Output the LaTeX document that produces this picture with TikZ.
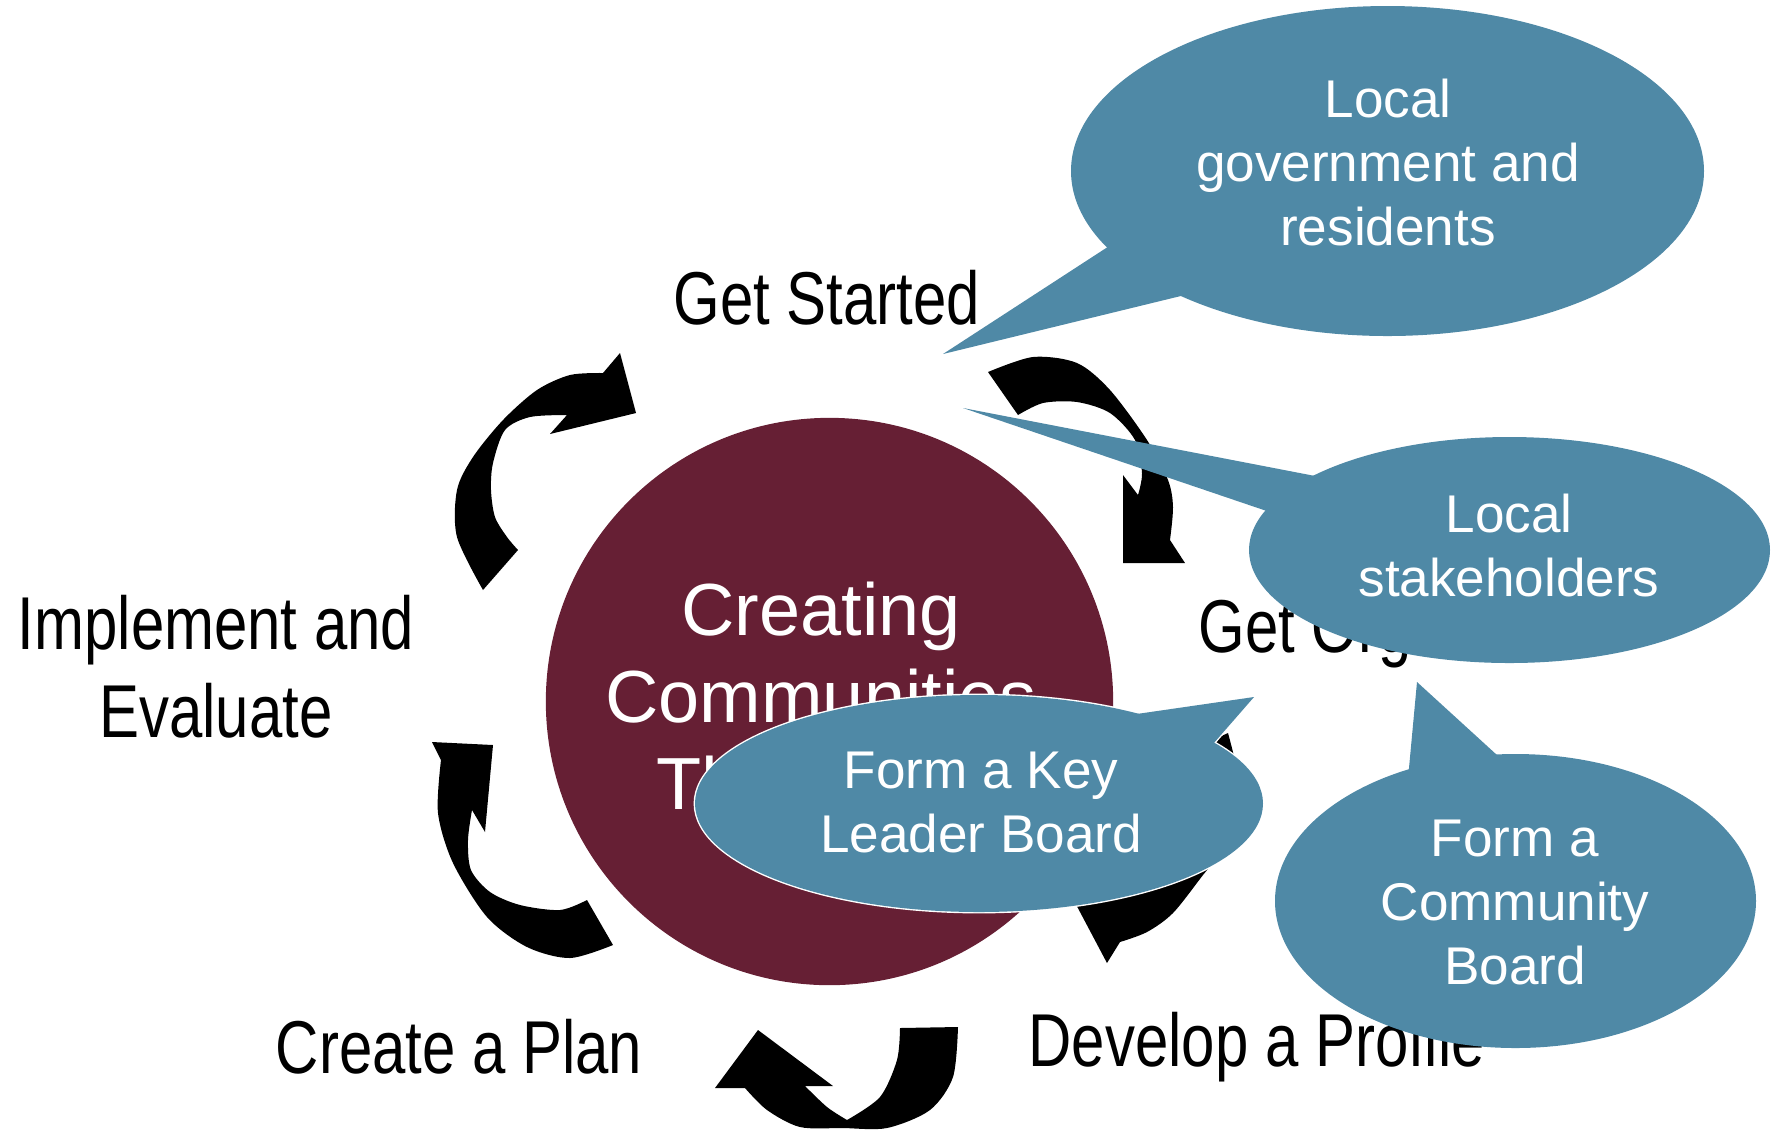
\documentclass[tikz,border=0pt]{standalone}
\usepackage{fontspec}
\setmainfont{Liberation Sans}
\newfontfamily\narrowsans[FakeStretch=0.8]{Liberation Sans}
\definecolor{hubred}{RGB}{102,31,52}
\definecolor{bubbleblue}{RGB}{79,137,166}
\begin{document}
\begin{tikzpicture}[x=0.01cm,y=-0.01cm,
  steplabel/.style={font=\narrowsans\fontsize{21.3pt}{25pt}\selectfont, text=black, inner sep=0},
  hubtext/.style={font=\fontsize{21pt}{24.75pt}\selectfont, text=white, align=center, inner sep=0},
  bubbletext/.style={font=\fontsize{15.1pt}{18.2pt}\selectfont, text=white, align=center, inner sep=0},
  cyclearrow/.style={fill=black},
  bubble/.style={fill=bubbleblue},
  rimmed/.style={fill=bubbleblue, draw=white, line width=0.8pt}]
\useasboundingbox (0,0) rectangle (1772,1132);

% central hub
\node[circle, fill=hubred, minimum size=5.67cm, inner sep=0] (hub) at (829.5,701.5) {};
\node[hubtext] (hubtitle) at (821,696) {Creating\\Communities\\That Care};

% step labels
\node[steplabel, anchor=base] (started) at (827,324) {Get Started};
\node[steplabel, anchor=base west] (organized) at (1198,652) {Get Organized};
\node[steplabel, anchor=base west] (profile) at (1028,1066) {Develop a Profile};
\node[steplabel, anchor=base] (plan) at (459,1073) {Create a Plan};
\node[steplabel, align=center] (evaluate) at (216,666.5) {Implement and\\Evaluate};

% curved cycle arrows
% Implement and Evaluate -> Get Started
\fill[cyclearrow] (483,590) -- plot[smooth] coordinates {(483,590) (457,537) (457,490) (473,457) (503,420) (537,390) (570,375) (603,373)}
  -- (620,353) -- (636,413) -- (550,434) -- (567,415)
  -- plot[smooth] coordinates {(567,415) (530,417) (505,430) (493,463) (491,490) (495,517) (507,537) (518,550)} -- cycle;
% Get Started -> Get Organized
\fill[cyclearrow] (988,372) -- plot[smooth] coordinates {(988,372) (1033,357) (1077,363) (1110,390) (1147,440) (1168,480) (1173,507) (1170,540)}
  -- (1185,563) -- (1123,563) -- (1123,475) -- (1138,495)
  -- plot[smooth] coordinates {(1138,495) (1142,473) (1135,440) (1110,413) (1077,402) (1043,403) (1018,415)} -- cycle;
% Get Organized -> Develop a Profile
\fill[cyclearrow] (1228,733) -- plot[smooth] coordinates {(1228,733) (1240,790) (1230,840) (1203,875) (1173,913) (1147,932) (1120,942)}
  -- (1107,963) -- (1062,878) -- (1163,863) -- (1153,880)
  -- plot[smooth] coordinates {(1153,880) (1185,830) (1200,790) (1195,748)} -- cycle;
% Develop a Profile -> Create a Plan
\fill[cyclearrow] (958,1027) -- plot[smooth] coordinates {(958,1027) (953,1077) (930,1110) (887,1128) (843,1128) (800,1127) (767,1110) (745,1088)}
  -- (715,1088) -- (758,1030) -- (833,1086) -- (805,1086)
  -- plot[smooth] coordinates {(805,1086) (827,1107) (847,1120)}
  -- plot[smooth] coordinates {(847,1120) (880,1097) (897,1060) (900,1028)} -- cycle;
% Create a Plan -> Implement and Evaluate
\fill[cyclearrow] (613,945) -- plot[smooth] coordinates {(613,945) (570,958) (527,947) (487,917) (453,863) (438,813) (441,760)}
  -- (432,742) -- (493,745) -- (485,832) -- (472,810)
  -- plot[smooth] coordinates {(472,810) (468,840) (471,870) (490,892) (520,905) (560,910) (587,900)} -- cycle;

% callout: residents
\fill[bubble] (1387.5,171) ellipse [x radius=316.5, y radius=165];
\fill[bubble] (1140,226) -- (943,354) -- (1230,284) -- cycle;
\node[bubbletext] (residents) at (1388,163) {Local\\government and\\residents};

% callout: stakeholders
\fill[bubble] (1509.5,550) ellipse [x radius=260.5, y radius=113];
\fill[bubble] (1367,486) -- (963,408) -- (1308,525) -- cycle;
\node[bubbletext] (stakeholders) at (1509,545.5) {Local\\stakeholders};

% callout: key leader board (white rim)
\filldraw[rimmed] (979,803.5) ellipse [x radius=284, y radius=108.5];
\filldraw[rimmed] (1102,719) -- (1254,697) -- (1203,755.5) -- cycle;
\fill[bubble] (979,803.5) ellipse [x radius=284, y radius=108.5];
\fill[bubble] (1102,719) -- (1254,697) -- (1203,755.5) -- cycle;
\node[bubbletext] (keyleader) at (981,802.5) {Form a Key\\Leader Board};

% callout: community board
\fill[bubble] (1515.5,901) ellipse [x radius=240.5, y radius=147];
\fill[bubble] (1407,789.5) -- (1417,682) -- (1514.5,771) -- cycle;
\node[bubbletext] (community) at (1515,902.5) {Form a\\Community\\Board};
\end{tikzpicture}
\end{document}
